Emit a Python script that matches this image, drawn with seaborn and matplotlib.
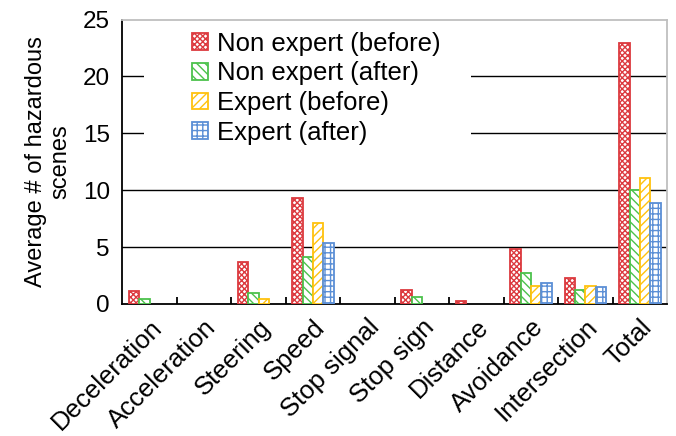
import matplotlib
matplotlib.use("Agg")
import matplotlib.pyplot as plt
from matplotlib.patches import Patch, Rectangle
import seaborn as sns
import pandas as pd

categories = ["Deceleration", "Acceleration", "Steering", "Speed", "Stop signal",
              "Stop sign", "Distance", "Avoidance", "Intersection", "Total"]
series_names = ["Non expert (before)", "Non expert (after)",
                "Expert (before)", "Expert (after)"]
non_expert_before = [1.1, 0.0, 3.7, 9.35, 0.0, 1.2, 0.25, 4.85, 2.3, 22.9]
non_expert_after = [0.45, 0.0, 0.95, 4.1, 0.0, 0.6, 0.0, 2.7, 1.2, 10.0]
expert_before = [0.0, 0.0, 0.45, 7.1, 0.0, 0.0, 0.0, 1.6, 1.6, 11.1]
expert_after = [0.0, 0.0, 0.0, 5.35, 0.0, 0.0, 0.0, 1.85, 1.45, 8.9]
y_ticks = [0, 5, 10, 15, 20, 25]

colors = ["#DC3A3F", "#4CC24C", "#FFC20E", "#5B8FD6"]
hatches = ["xxxxxx", "\\\\\\\\", "////", "+++"]

rows = []
for name, vals in zip(series_names,
                      [non_expert_before, non_expert_after, expert_before, expert_after]):
    for cat, v in zip(categories, vals):
        rows.append({"category": cat, "group": name, "value": v})
df = pd.DataFrame(rows)

sns.set_theme(style="white")
plt.rcParams["font.family"] = ["Liberation Sans", "DejaVu Sans"]
plt.rcParams["hatch.linewidth"] = 1.0
plt.rcParams["text.color"] = "black"
plt.rcParams["axes.labelcolor"] = "black"
plt.rcParams["xtick.color"] = "black"
plt.rcParams["ytick.color"] = "black"

fig = plt.figure(figsize=(6.76, 4.36), dpi=100)
ax = fig.add_axes([0.181, 0.303, 0.806, 0.652])

sns.barplot(data=df, x="category", y="value", hue="group", order=categories,
            hue_order=series_names, palette=colors, width=0.76, gap=0,
            saturation=1, errorbar=None, legend=False, ax=ax, zorder=3)

for cont, col, h in zip(ax.containers, colors, hatches):
    for bar in cont:
        bar.set_facecolor("white")
        bar.set_edgecolor(col)
        bar.set_hatch(h)
        bar.set_linewidth(1.3 if bar.get_height() > 0 else 0)

n = len(categories)
ax.set_ylim(0, 25)
ax.set_xlim(-0.5, n - 0.5)
ax.set_yticks(y_ticks)
ax.tick_params(axis="y", labelsize=17.5, length=0, pad=9, left=False)
ax.set_ylabel("Average # of hazardous\nscenes", fontsize=17, linespacing=1.15,
              labelpad=8)
ax.set_xlabel("")

# horizontal gridlines
for yv in y_ticks[1:-1]:
    ax.axhline(yv, color="black", lw=1.0, zorder=1)

# white panel behind the legend, hiding the gridlines there
ax.add_patch(Rectangle((0.04, 0.444), 0.60, 0.536, transform=ax.transAxes,
                       facecolor="white", edgecolor="none", zorder=2))

# boundary ticks (major, pointing up) and category labels (minor, centred)
ax.set_xticks([i + 0.5 for i in range(n - 1)])
ax.set_xticklabels([])
ax.tick_params(axis="x", which="major", direction="in", length=5, width=1.3,
               bottom=True, color="black")
ax.set_xticks(range(n), minor=True)
ax.set_xticklabels(categories, minor=True, rotation=45, ha="right",
                   rotation_mode="anchor", fontsize=18.5)
ax.tick_params(axis="x", which="minor", length=0, pad=8, bottom=True)

for side in ["left", "bottom"]:
    ax.spines[side].set_color("black")
    ax.spines[side].set_linewidth(1.3)
for side in ["top", "right"]:
    ax.spines[side].set_color("#BFBFBF")
    ax.spines[side].set_linewidth(1.3)

handles = [Patch(facecolor="white", edgecolor=c, hatch=h, linewidth=1.3)
           for c, h in zip(colors, hatches)]
leg = ax.legend(handles, series_names, loc="upper left",
                bbox_to_anchor=(0.128, 0.957), frameon=False, fontsize=18.5,
                handlelength=0.62, handleheight=0.62, handletextpad=0.35,
                labelspacing=0.22, borderaxespad=0, borderpad=0)
leg.set_zorder(4)

fig.savefig("out.png", dpi=100)
